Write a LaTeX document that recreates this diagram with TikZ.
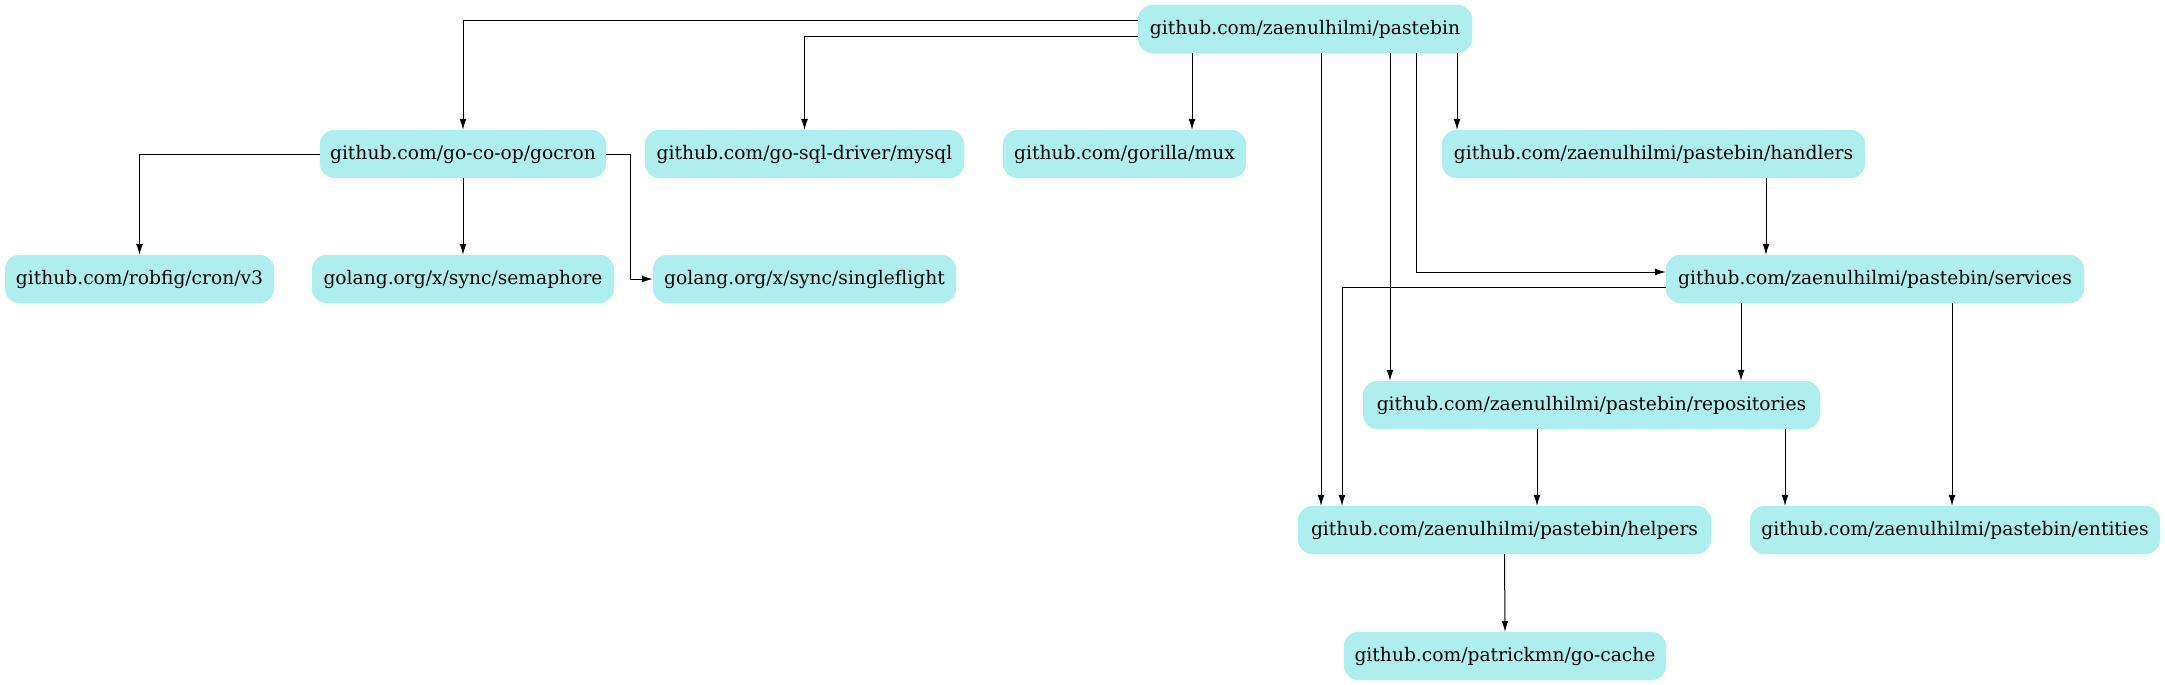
\documentclass[tikz,border=0pt]{standalone}
\usepackage{fontspec}
\setmainfont{DejaVu Serif}
\usetikzlibrary{arrows.meta,calc}
\definecolor{pturq}{HTML}{AFEEEE}
\begin{document}
\begin{tikzpicture}[x=1pt,y=-1pt,
  pkg/.style={fill=pturq,draw=pturq,rounded corners=15pt,minimum height=48pt,inner sep=0pt,
    font=\fontsize{18.67pt}{22pt}\selectfont,text=black},
  arr/.style={draw=black,line width=1pt,-{Latex[length=11pt,width=7pt]}}]
\useasboundingbox (0,0) rectangle (2165,685);
% rank 0
\node[pkg,minimum width=334pt] (P) at (1305,29) {github.com/zaenulhilmi/pastebin};
% rank 1
\node[pkg,minimum width=286pt] (gocron) at (463,154) {github.com/go-co-op/gocron};
\node[pkg,minimum width=319pt] (mysql) at (804.5,154) {github.com/go-sql-driver/mysql};
\node[pkg,minimum width=243pt] (mux) at (1124.5,154) {github.com/gorilla/mux};
\node[pkg,minimum width=423pt] (handlers) at (1653.5,154) {github.com/zaenulhilmi/pastebin/handlers};
% rank 2
\node[pkg,minimum width=269pt] (robfig) at (139.5,279) {github.com/robfig/cron/v3};
\node[pkg,minimum width=302pt] (semaphore) at (463,279) {golang.org/x/sync/semaphore};
\node[pkg,minimum width=303pt] (singleflight) at (804.5,279) {golang.org/x/sync/singleflight};
\node[pkg,minimum width=418pt] (services) at (1875,279) {github.com/zaenulhilmi/pastebin/services};
% rank 3
\node[pkg,minimum width=457pt] (repos) at (1591.5,405) {github.com/zaenulhilmi/pastebin/repositories};
% rank 4
\node[pkg,minimum width=413pt] (helpers) at (1504.5,530) {github.com/zaenulhilmi/pastebin/helpers};
\node[pkg,minimum width=410pt] (entities) at (1955,530) {github.com/zaenulhilmi/pastebin/entities};
% rank 5
\node[pkg,minimum width=322pt] (gocache) at (1505,656) {github.com/patrickmn/go-cache};
% edges
\draw[arr] ([yshift=8pt]P.west) -| (gocron.north);
\draw[arr] ([yshift=-8pt]P.west) -| (mysql.north);
\draw[arr] ([xshift=-113pt]P.south) -- ([xshift=67.5pt]mux.north);
\draw[arr] ([xshift=16pt]P.south) -- ([xshift=-183.5pt]helpers.north);
\draw[arr] ([xshift=85pt]P.south) -- ([xshift=-201.5pt]repos.north);
\draw[arr] ([xshift=111pt]P.south) |- ([yshift=7pt]services.west);
\draw[arr] ([xshift=152pt]P.south) -- ([xshift=-196.5pt]handlers.north);
\draw[arr] (gocron.west) -| (robfig.north);
\draw[arr] (gocron.south) -- (semaphore.north);
\draw[arr] (gocron.east) -- ++(24,0) |- (singleflight.west);
\draw[arr] ([xshift=112.5pt]handlers.south) -- ([xshift=-109pt]services.north);
\draw[arr] ([yshift=-8pt]services.west) -| ([xshift=-162.5pt]helpers.north);
\draw[arr] ([xshift=-134pt]services.south) -- ([xshift=149.5pt]repos.north);
\draw[arr] ([xshift=77pt]services.south) -- ([xshift=-3pt]entities.north);
\draw[arr] ([xshift=-54.5pt]repos.south) -- ([xshift=32.5pt]helpers.north);
\draw[arr] ([xshift=193.5pt]repos.south) -- ([xshift=-170pt]entities.north);
\draw[arr] (helpers.south) -- (gocache.north);
\end{tikzpicture}
\end{document}
